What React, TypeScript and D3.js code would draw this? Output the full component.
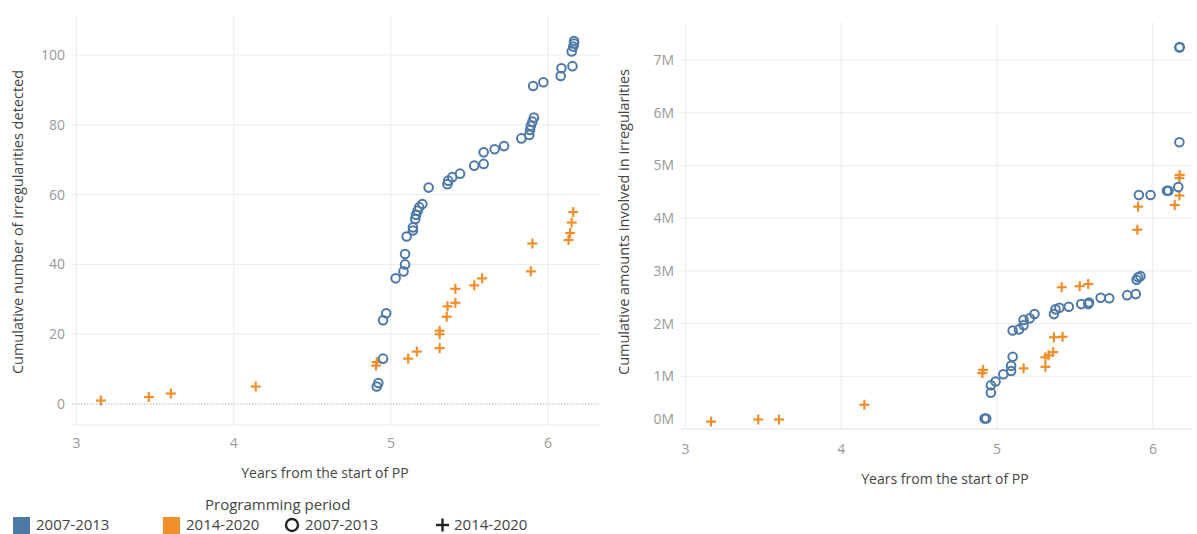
import React from "react";
import * as d3 from "d3";

// Left chart: cumulative number of irregularities
const countOld: [number, number][] = [
  [4.91, 5], [4.92, 6], [4.95, 13], [4.95, 24], [4.97, 26], [5.03, 36], [5.08, 38], [5.09, 40], [5.09, 43],
  [5.1, 48], [5.14, 49.7], [5.14, 50.6], [5.155, 53], [5.16, 54.2], [5.17, 55.4], [5.18, 56.4], [5.2, 57.3],
  [5.24, 62], [5.36, 63], [5.365, 64], [5.39, 65], [5.44, 66], [5.53, 68.3], [5.59, 68.8], [5.59, 72.1],
  [5.66, 73], [5.72, 73.9], [5.83, 76.1], [5.88, 77.1], [5.885, 78.5], [5.89, 79.7], [5.9, 80.9], [5.91, 82.1],
  [5.905, 91.1], [5.97, 92.2], [6.08, 94], [6.085, 96.2], [6.155, 96.8], [6.15, 101], [6.16, 102.4],
  [6.165, 103.3], [6.165, 104],
];
const countNew: [number, number][] = [
  [3.155, 1], [3.46, 2], [3.6, 3], [4.14, 5], [4.905, 11], [4.91, 12], [5.11, 13], [5.165, 15], [5.31, 16],
  [5.31, 20], [5.31, 21], [5.355, 25], [5.36, 28], [5.41, 29], [5.41, 33], [5.53, 34], [5.58, 36], [5.89, 38],
  [5.9, 46], [6.13, 47], [6.14, 49], [6.15, 52], [6.16, 55],
];
// Right chart: cumulative amounts (millions)
const amountOld: [number, number][] = [
  [4.92, 0.2], [4.93, 0.2], [4.96, 0.69], [4.96, 0.83], [4.99, 0.9], [5.04, 1.04], [5.09, 1.1], [5.09, 1.2],
  [5.1, 1.37], [5.1, 1.87], [5.14, 1.89], [5.17, 1.97], [5.17, 2.07], [5.21, 2.1], [5.24, 2.18], [5.365, 2.18],
  [5.375, 2.27], [5.4, 2.3], [5.46, 2.32], [5.54, 2.37], [5.585, 2.37], [5.59, 2.4], [5.665, 2.49], [5.72, 2.48],
  [5.835, 2.54], [5.89, 2.56], [5.895, 2.83], [5.905, 2.88], [5.92, 2.9], [5.91, 4.44], [5.985, 4.44],
  [6.09, 4.52], [6.1, 4.52], [6.163, 4.59], [6.17, 5.44], [6.17, 7.24], [6.172, 7.25],
];
const amountNew: [number, number][] = [
  [3.164, 0.14], [3.467, 0.18], [3.6, 0.18], [4.148, 0.46], [4.905, 1.06], [4.91, 1.12], [5.17, 1.15],
  [5.31, 1.18], [5.31, 1.36], [5.33, 1.4], [5.36, 1.46], [5.365, 1.74], [5.42, 1.75], [5.415, 2.69],
  [5.53, 2.71], [5.585, 2.75], [5.9, 3.78], [5.905, 4.22], [6.14, 4.25], [6.17, 4.43], [6.17, 4.76],
  [6.172, 4.82],
];
const xTicks = [3, 4, 5, 6];
const countTicks = [0, 20, 40, 60, 80, 100];
const amountTicks = [0, 1, 2, 3, 4, 5, 6, 7];
const legendItems = ["2007-2013", "2014-2020"];

const BLUE = "#4e79a7";
const ORANGE = "#f28e2b";
const FONT = "'Open Sans', sans-serif";
const GRID = "#ececec";
const TICK = "#999";
const TITLE = "#444";

function Plus({ x, y }: { x: number; y: number }) {
  const s = 5;
  return (
    <g stroke={ORANGE} strokeWidth={2.2}>
      <line x1={x - s} x2={x + s} y1={y} y2={y} />
      <line x1={x} x2={x} y1={y - s} y2={y + s} />
    </g>
  );
}

function Panel(props: {
  left: number; right: number; top: number; bottom: number;
  xDomain: [number, number]; yDomain: [number, number];
  yTicks: number[]; fmt: (v: number) => string;
  oldPts: [number, number][]; newPts: [number, number][];
  yTitle: string; yTitleX: number; yTitleY: number; xTitleX: number; xTitleY: number; xTickY: number;
  zeroDotted: boolean; labelRight: number;
}) {
  const x = d3.scaleLinear().domain(props.xDomain).range([props.left, props.right]);
  const y = d3.scaleLinear().domain(props.yDomain).range([props.bottom, props.top]);
  return (
    <g>
      {xTicks.map((t) => (
        <line key={"vx" + t} x1={x(t)} x2={x(t)} y1={props.top} y2={props.bottom} stroke={GRID} />
      ))}
      {props.yTicks.map((t) => (
        <line key={"hy" + t} x1={props.left} x2={props.right} y1={y(t)} y2={y(t)}
          stroke={t === 0 && props.zeroDotted ? "#b5b5b5" : GRID}
          strokeDasharray={t === 0 && props.zeroDotted ? "1.5 1.5" : undefined} />
      ))}
      <line x1={props.left} x2={props.right} y1={props.bottom} y2={props.bottom} stroke={GRID} />
      {props.yTicks.map((t) => {
        const yy = Math.min(y(t), props.bottom - 10);
        return (
          <text key={"ty" + t} x={props.labelRight} y={yy} dy="0.35em" textAnchor="end"
            fontSize={14} fill={TICK} fontFamily={FONT}>{props.fmt(t)}</text>
        );
      })}
      {xTicks.map((t) => (
        <text key={"tx" + t} x={x(t)} y={props.xTickY} textAnchor="middle" fontSize={14}
          fill={TICK} fontFamily={FONT}>{t}</text>
      ))}
      <text x={props.xTitleX} y={props.xTitleY} textAnchor="middle" fontSize={14} fill={TITLE}
        fontFamily={FONT}>Years from the start of PP</text>
      <text transform={`translate(${props.yTitleX},${props.yTitleY}) rotate(-90)`} textAnchor="middle"
        fontSize={14.5} fill={TITLE} fontFamily={FONT}>{props.yTitle}</text>
      {props.newPts.map((d, i) => (
        <Plus key={"p" + i} x={x(d[0])} y={y(d[1])} />
      ))}
      {props.oldPts.map((d, i) => (
        <circle key={"c" + i} cx={x(d[0])} cy={y(d[1])} r={4.3} fill="none" stroke={BLUE} strokeWidth={2} />
      ))}
    </g>
  );
}

export default function App() {
  const lx0 = 76.5, lpx = 157.2;
  const rx0 = 685.5, rpx = 155.8;
  return (
    <svg width={1197} height={534} style={{ position: "absolute", left: 0, top: 0, background: "#fff" }}>
      <Panel left={72} right={600} top={15} bottom={425}
        xDomain={[3 + (72 - lx0) / lpx, 3 + (600 - lx0) / lpx]}
        yDomain={[(404 - 425) / 3.49, (404 - 15) / 3.49]}
        yTicks={countTicks} fmt={(v) => String(v)}
        oldPts={countOld} newPts={countNew}
        yTitle="Cumulative number of irregularities detected" yTitleX={23} yTitleY={222}
        xTitleX={325} xTitleY={478} xTickY={448} zeroDotted={true} labelRight={65} />
      <Panel left={681} right={1192} top={22} bottom={429}
        xDomain={[3 + (681 - rx0) / rpx, 3 + (1192 - rx0) / rpx]}
        yDomain={[0, (429 - 22) / 52.7]}
        yTicks={amountTicks} fmt={(v) => v + "M"}
        oldPts={amountOld} newPts={amountNew}
        yTitle="Cumulative amounts involved in irregularities" yTitleX={629} yTitleY={222}
        xTitleX={945} xTitleY={484} xTickY={454} zeroDotted={false} labelRight={674} />
      <g fontFamily={FONT} fontSize={15} fill={TITLE}>
        <text x={205} y={510}>Programming period</text>
        <rect x={13} y={517} width={17} height={17} fill={BLUE} />
        <text x={36} y={530}>{legendItems[0]}</text>
        <rect x={163} y={517} width={17} height={17} fill={ORANGE} />
        <text x={186} y={530}>{legendItems[1]}</text>
        <circle cx={292} cy={525} r={6} fill="none" stroke="#222" strokeWidth={2.4} />
        <text x={305} y={530}>{legendItems[0]}</text>
        <g stroke="#222" strokeWidth={2.4}>
          <line x1={436} x2={449} y1={525} y2={525} />
          <line x1={442.5} x2={442.5} y1={518.5} y2={531.5} />
        </g>
        <text x={454} y={530}>{legendItems[1]}</text>
      </g>
    </svg>
  );
}
